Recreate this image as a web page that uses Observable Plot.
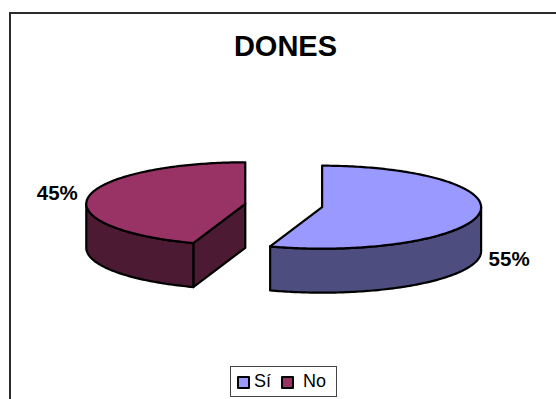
<!DOCTYPE html>
<html>
<head>
<meta charset="utf-8">
<script src="https://cdn.jsdelivr.net/npm/d3@7"></script>
<script src="https://cdn.jsdelivr.net/npm/@observablehq/plot@0.6"></script>
<style>
html,body{margin:0;padding:0;background:#fff;overflow:hidden}
#page{position:relative;width:556px;height:399px;overflow:hidden;font-family:"Liberation Sans",Arial,sans-serif;color:#000}
#frame{position:absolute;left:9px;top:12px;width:600px;height:500px;border-left:2px solid #2b2b2b;border-top:2px solid #2b2b2b}
#title{position:absolute;left:0;top:29px;width:571px;text-align:center;font-weight:bold;font-size:29px;line-height:34px}
#chart{position:absolute;left:0;top:0}
#chart svg{display:block;background:transparent}
#legend{position:absolute;left:230px;top:366px;width:105px;height:29px;border:1px solid #444;background:#fff;box-sizing:content-box}
.sw{position:absolute;top:9px;width:9px;height:9px;border:2px solid #000;border-radius:1px}
.lb{position:absolute;top:4px;font-size:18px;line-height:21px}
</style>
</head>
<body>
<div id="page">
  <div id="frame"></div>
  <div id="title"></div>
  <div id="chart"></div>
  <div id="legend"></div>
</div>
<script>
const titleText = "DONES";
const categories = ["Sí", "No"];
const values = [55.3, 44.7];
const labels = ["55%", "45%"];
const topColors = ["#9999FF", "#993366"];
const sideColors = ["#4D4D80", "#4D1A33"];

// pie projection
const W = 556, H = 399, cx = 283.2, cy = 205, rx = 159, ry = 41.5, depth = 44, explode = 0.245;
const rad = d => d * Math.PI / 180;
const total = d3.sum(values);
let acc = 0;
const slices = categories.map((c, i) => {
  const a0 = acc / total * 360; acc += values[i]; const a1 = acc / total * 360;
  const mid = rad((a0 + a1) / 2);
  return {i, a0, a1, ox: cx + explode * rx * Math.sin(mid), oy: cy - explode * ry * Math.cos(mid)};
});
const rim = (s, a, dz = 0) => ({x: s.ox + rx * Math.sin(rad(a)), y: s.oy - ry * Math.cos(rad(a)) + dz});
const arc = (s, a0, a1, dz = 0) => {
  const n = Math.max(1, Math.ceil(Math.abs(a1 - a0)));
  return d3.range(n + 1).map(k => rim(s, a0 + (a1 - a0) * k / n, dz));
};
const close = p => [...p, p[0]];
const apex = (s, dz = 0) => ({x: s.ox, y: s.oy + dz});

const faces = [];
slices.forEach(s => {
  // radial cut walls that face the viewer
  const wall = a => {
    const p = rim(s, a), q = rim(s, a, depth);
    faces.push({pts: close([apex(s), p, q, apex(s, depth)]), fill: sideColors[s.i]});
  };
  if (Math.sin(rad(s.a0)) < -1e-6) wall(s.a0);
  if (Math.sin(rad(s.a1)) > 1e-6) wall(s.a1);
  // outer wall: front half of the rim
  const lo = Math.max(s.a0, 90), hi = Math.min(s.a1, 270);
  if (hi > lo) faces.push({pts: close([...arc(s, lo, hi), ...arc(s, hi, lo, depth)]), fill: sideColors[s.i]});
  // top
  faces.push({pts: close([apex(s), ...arc(s, s.a0, s.a1)]), fill: topColors[s.i]});
});

const labelRows = [
  {text: labels[0], x: slices[0].ox + rx + 28, y: slices[0].oy + 52},
  {text: labels[1], x: slices[1].ox - rx - 29, y: slices[1].oy - 10}
];

const plot = Plot.plot({
  width: W, height: H,
  margin: 0,
  x: {domain: [0, W], range: [0, W], axis: null},
  y: {domain: [0, H], range: [0, H], axis: null},
  marks: [
    ...faces.map(f => Plot.line(f.pts, {x: "x", y: "y", fill: f.fill, stroke: "#000", strokeWidth: 2.2, strokeLinejoin: "round"})),
    Plot.text(labelRows, {x: "x", y: "y", text: "text", fontSize: 20.5, fontWeight: "bold", fontFamily: "Liberation Sans", fill: "#000"})
  ]
});
document.getElementById("chart").appendChild(plot);
document.getElementById("title").textContent = titleText;

const swatchX = [6, 50], textX = [23, 72];
const legend = d3.select("#legend");
categories.forEach((c, i) => {
  legend.append("div").attr("class", "sw").style("left", swatchX[i] + "px").style("background", topColors[i]);
  legend.append("div").attr("class", "lb").style("left", textX[i] + "px").text(c);
});
</script>
</body>
</html>
